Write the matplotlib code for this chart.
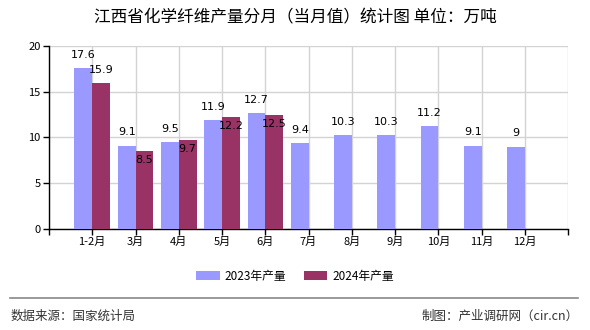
import matplotlib
matplotlib.use("Agg")
from matplotlib import pyplot as plt
import numpy as np

plt.rcParams['font.family'] = ['Noto Sans CJK SC', 'DejaVu Sans']

months = ['1-2月', '3月', '4月', '5月', '6月', '7月', '8月', '9月', '10月', '11月', '12月']
output_2023 = [17.6, 9.1, 9.5, 11.9, 12.7, 9.4, 10.3, 10.3, 11.2, 9.1, 9]
output_2024 = [15.9, 8.5, 9.7, 12.2, 12.5]
series_names = ['2023年产量', '2024年产量']
title = '江西省化学纤维产量分月（当月值）统计图 单位：万吨'
source_text = '数据来源：国家统计局'
credit_text = '制图：产业调研网（cir.cn）'

color_2023 = '#9999FF'
color_2024 = '#993366'

fig = plt.figure(figsize=(5.9, 3.3), dpi=100)
ax = fig.add_axes([0.083, 0.306, 0.880, 0.555])

x = np.arange(len(months))
w = 0.41
ax.bar(x[:len(output_2023)] - w / 2, output_2023, w, color=color_2023,
       label=series_names[0], zorder=3)
ax.bar(x[:len(output_2024)] + w / 2, output_2024, w, color=color_2024,
       label=series_names[1], zorder=3)

# value labels: 2023 above the bar, 2024 just under its top unless there is room above
for i, v in enumerate(output_2023):
    ax.annotate(f'{v:g}', (x[i] - w / 2, v), xytext=(0, 9.5), textcoords='offset points',
                ha='center', va='center', fontsize=8, family='DejaVu Sans', zorder=4)
for i, v in enumerate(output_2024):
    dy = 9.5 if output_2023[i] - v > 1 else -6.5
    ax.annotate(f'{v:g}', (x[i] + w / 2, v), xytext=(0, dy), textcoords='offset points',
                ha='center', va='center', fontsize=8, family='DejaVu Sans', zorder=4)

ax.set_xlim(-1, len(months))
ax.set_ylim(0, 20)
ax.set_yticks([0, 5, 10, 15, 20])
ax.set_xticks(np.arange(-1, len(months) + 1))
ax.set_xticklabels([''] + months + [''])
ax.tick_params(axis='both', labelsize=8, length=4, width=1, color='black', pad=2)
ax.grid(True, color='#d3d3d3', linewidth=1, zorder=0)
for side in ['top', 'right']:
    ax.spines[side].set_visible(False)
for side in ['left', 'bottom']:
    ax.spines[side].set_color('black')
    ax.spines[side].set_linewidth(1)

fig.text(0.5, 0.945, title, ha='center', va='center', fontsize=12, weight='medium')

fig.legend(loc='center', bbox_to_anchor=(0.5, 0.163), ncol=2, frameon=False,
           fontsize=8.5, handlelength=2.0, handleheight=0.8, columnspacing=1.5,
           handletextpad=0.4)

fig.add_artist(plt.Line2D([0.017, 0.98], [0.097, 0.097], color='#888888', linewidth=1.2))
fig.text(0.017, 0.042, source_text, ha='left', va='center', fontsize=9, color='#333333')
fig.text(0.98, 0.042, credit_text, ha='right', va='center', fontsize=9, color='#333333')

fig.savefig('out.png', dpi=100)
